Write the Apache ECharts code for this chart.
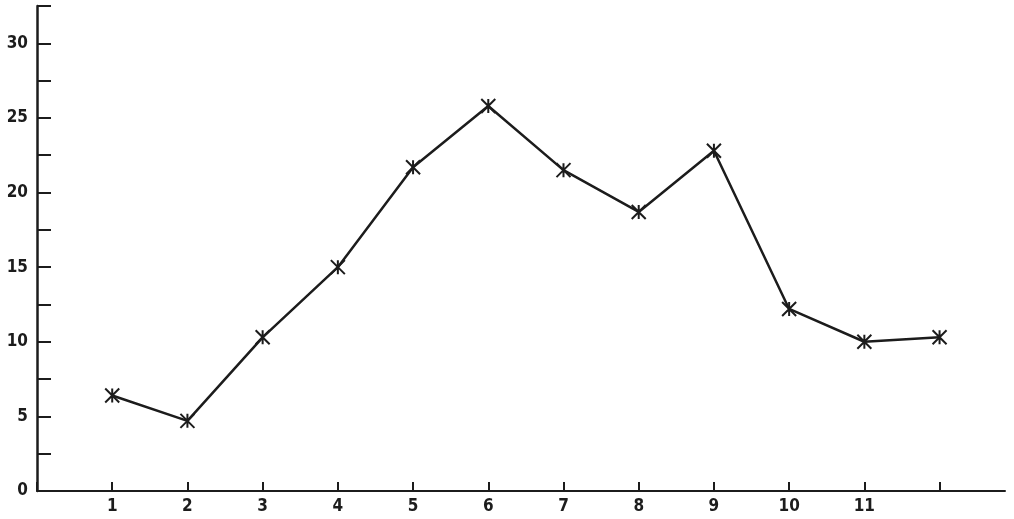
<!DOCTYPE html>
<html>
<head>
<meta charset="utf-8">
<script src="https://cdn.jsdelivr.net/npm/echarts@6/dist/echarts.min.js"></script>
<style>
html,body{margin:0;padding:0;background:#fff;}
#chart{width:1014px;height:519px;}
</style>
</head>
<body>
<div id="chart"></div>
<script>
var categories = [1, 2, 3, 4, 5, 6, 7, 8, 9, 10, 11, 12];
var values = [6.4, 4.7, 10.3, 15.0, 21.7, 25.8, 21.5, 18.7, 22.8, 12.2, 10.0, 10.3];
var xTickLabels = ['1','2','3','4','5','6','7','8','9','10','11',''];
var yTickLabels = [0, 5, 10, 15, 20, 25, 30];

var ink = '#1c1c1c';
var font = "'Liberation Sans Narrow','DejaVu Sans Condensed','Roboto',sans-serif";
var chart = echarts.init(document.getElementById('chart'));
chart.setOption({
  backgroundColor: '#ffffff',
  animation: false,
  grid: {left: 37, right: 9, top: 6, bottom: 28, containLabel: false},
  xAxis: {
    type: 'value', min: 0, max: 12.87, interval: 1,
    axisLine: {show: true, lineStyle: {color: ink, width: 2}},
    axisTick: {show: true, inside: true, length: 9, lineStyle: {color: ink, width: 2}},
    splitLine: {show: false},
    axisLabel: {
      margin: 7, color: ink, fontSize: 17, fontWeight: 'bold', fontFamily: font,
      showMaxLabel: false,
      formatter: function (v) {
        var i = categories.indexOf(v);
        return i >= 0 ? xTickLabels[i] : '';
      }
    }
  },
  yAxis: {
    type: 'value', min: 0, max: 32.5, interval: 2.5,
    axisLine: {show: true, lineStyle: {color: ink, width: 2.5}},
    axisTick: {show: true, inside: true, length: 14, lineStyle: {color: ink, width: 2}},
    splitLine: {show: false},
    axisLabel: {
      margin: 9, color: ink, fontSize: 17, fontWeight: 'bold', fontFamily: font,
      formatter: function (v) {
        return yTickLabels.indexOf(v) >= 0 ? String(v) : '';
      }
    }
  },
  series: [{
    type: 'line',
    data: categories.map(function (c, i) { return [c, values[i]]; }),
    lineStyle: {color: ink, width: 2.5},
    symbol: 'path://M0,0L10,10M10,0L0,10M5,0L5,10',
    symbolSize: 14,
    itemStyle: {color: 'none', borderColor: ink, borderWidth: 2},
    silent: true
  }]
});
</script>
</body>
</html>
